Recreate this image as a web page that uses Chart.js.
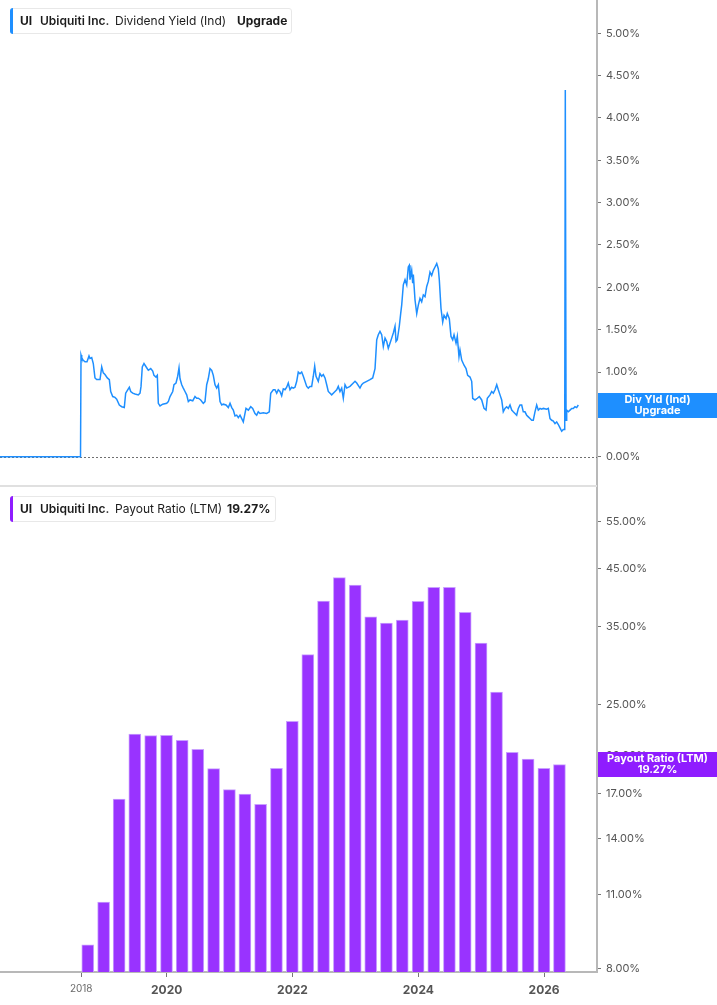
<!DOCTYPE html>
<html>
<head>
<meta charset="utf-8">
<script src="https://cdn.jsdelivr.net/npm/chart.js@4.4.1/dist/chart.umd.min.js"></script>
<style>
  html, body { margin: 0; padding: 0; background: #fff; }
  #wrap { position: relative; width: 717px; height: 1005px; overflow: hidden; font-family: Inter, "Noto Sans", sans-serif; }
  #topBox { position: absolute; left: 0; top: 0; width: 717px; height: 487px; }
  #botBox { position: absolute; left: 0; top: 487px; width: 717px; height: 518px; }
  #divider { position: absolute; left: 0; top: 485px; width: 597px; height: 2px; background: #e0e0e0; }
  .legend { position: absolute; height: 24px; background: #fff; border: 1px solid #e8e8e8; border-radius: 3px; font-size: 12px; color: #1c1c1c; }
  .legend .bar { position: absolute; left: -1px; top: -1px; bottom: -1px; width: 3px; border-radius: 3px 0 0 3px; }
  .legend span { position: absolute; top: 5px; white-space: nowrap; line-height: 14px; }
  .b7 { font-weight: 700; }
  .b6 { font-weight: 600; }
  .b4 { font-weight: 400; }
</style>
</head>
<body>
<div id="wrap">
  <div id="topBox"><canvas id="yieldChart"></canvas></div>
  <div id="botBox"><canvas id="payoutChart"></canvas></div>
  <div id="divider"></div>

  <div class="legend" style="left:10px;top:8px;width:280px;">
    <div class="bar" style="background:#1e8fff"></div>
    <span class="b7" style="left:9px">UI</span>
    <span class="b6" style="left:29px">Ubiquiti Inc.</span>
    <span class="b4" style="left:104px">Dividend Yield (Ind)</span>
    <span class="b7" style="left:226px">Upgrade</span>
  </div>
  <div class="legend" style="left:10px;top:496px;width:264px;">
    <div class="bar" style="background:#8f1cff"></div>
    <span class="b7" style="left:9px">UI</span>
    <span class="b6" style="left:29px">Ubiquiti Inc.</span>
    <span class="b4" style="left:104px">Payout Ratio (LTM)</span>
    <span class="b7" style="left:216px">19.27%</span>
  </div>
</div>
<script>
console.log("Script started");

// ---- data ----
// dividend yield (ind), decimal year -> percent
var yieldYears = [
  2017.350, 2018.630, 2018.638, 2018.649, 2018.670, 2018.701, 2018.733, 2018.765, 2018.781, 2018.808,
  2018.833, 2018.860, 2018.887, 2018.940, 2018.967, 2018.992, 2019.019, 2019.056, 2019.088, 2019.110,
  2019.142, 2019.178, 2019.205, 2019.247, 2019.285, 2019.326, 2019.348, 2019.380, 2019.406, 2019.428,
  2019.460, 2019.496, 2019.549, 2019.576, 2019.592, 2019.612, 2019.639, 2019.682, 2019.708, 2019.746,
  2019.778, 2019.798, 2019.830, 2019.851, 2019.867, 2019.894, 2019.937, 2020.000, 2020.026, 2020.053,
  2020.096, 2020.116, 2020.148, 2020.175, 2020.196, 2020.212, 2020.239, 2020.264, 2020.291, 2020.318,
  2020.344, 2020.371, 2020.414, 2020.450, 2020.477, 2020.503, 2020.541, 2020.582, 2020.609, 2020.636,
  2020.661, 2020.689, 2020.716, 2020.741, 2020.768, 2020.795, 2020.821, 2020.848, 2020.875, 2020.900,
  2020.943, 2020.980, 2021.007, 2021.034, 2021.059, 2021.086, 2021.113, 2021.139, 2021.166, 2021.193,
  2021.218, 2021.234, 2021.261, 2021.298, 2021.336, 2021.367, 2021.404, 2021.431, 2021.456, 2021.483,
  2021.536, 2021.590, 2021.631, 2021.654, 2021.695, 2021.722, 2021.749, 2021.774, 2021.801, 2021.828,
  2021.854, 2021.881, 2021.908, 2021.933, 2021.960, 2021.987, 2022.013, 2022.040, 2022.067, 2022.092,
  2022.119, 2022.146, 2022.172, 2022.226, 2022.251, 2022.278, 2022.305, 2022.331, 2022.353, 2022.374,
  2022.410, 2022.437, 2022.464, 2022.490, 2022.517, 2022.544, 2022.569, 2022.623, 2022.676, 2022.703,
  2022.728, 2022.755, 2022.782, 2022.808, 2022.835, 2022.862, 2022.914, 2022.967, 2022.994, 2023.021,
  2023.073, 2023.100, 2023.126, 2023.180, 2023.232, 2023.275, 2023.312, 2023.339, 2023.364, 2023.391,
  2023.418, 2023.444, 2023.471, 2023.498, 2023.523, 2023.550, 2023.577, 2023.603, 2023.630, 2023.646,
  2023.666, 2023.698, 2023.720, 2023.736, 2023.762, 2023.789, 2023.816, 2023.841, 2023.857, 2023.868,
  2023.895, 2023.911, 2023.921, 2023.948, 2023.975, 2024.000, 2024.027, 2024.054, 2024.080, 2024.107,
  2024.134, 2024.159, 2024.186, 2024.213, 2024.239, 2024.266, 2024.293, 2024.318, 2024.334, 2024.361,
  2024.388, 2024.409, 2024.441, 2024.461, 2024.493, 2024.520, 2024.547, 2024.568, 2024.600, 2024.620,
  2024.647, 2024.663, 2024.690, 2024.727, 2024.759, 2024.785, 2024.822, 2024.849, 2024.865, 2024.902,
  2024.938, 2024.970, 2025.008, 2025.045, 2025.077, 2025.097, 2025.140, 2025.167, 2025.193, 2025.220,
  2025.247, 2025.272, 2025.299, 2025.326, 2025.351, 2025.378, 2025.405, 2025.431, 2025.458, 2025.485,
  2025.510, 2025.537, 2025.564, 2025.590, 2025.617, 2025.644, 2025.669, 2025.696, 2025.723, 2025.749,
  2025.776, 2025.803, 2025.828, 2025.855, 2025.882, 2025.908, 2025.935, 2025.962, 2025.987, 2026.041,
  2026.067, 2026.094, 2026.121, 2026.147, 2026.173, 2026.200, 2026.226, 2026.253, 2026.280, 2026.305,
  2026.328, 2026.337, 2026.349, 2026.359, 2026.385, 2026.412, 2026.439, 2026.464, 2026.491, 2026.518,
  2026.544
];
var yieldPct = [
  0, 0, 1.20, 1.17, 1.14, 1.12, 1.12, 1.19, 1.16, 1.17,
  1.10, 0.93, 0.91, 0.91, 1.06, 0.99, 0.97, 0.93, 0.91, 0.77,
  0.71, 0.70, 0.68, 0.61, 0.59, 0.58, 0.75, 0.79, 0.82, 0.77,
  0.75, 0.74, 0.73, 0.75, 0.83, 1.06, 1.10, 1.05, 1.02, 1.04,
  1.01, 0.96, 0.94, 0.96, 0.63, 0.60, 0.62, 0.63, 0.65, 0.71,
  0.77, 0.85, 0.87, 0.95, 1.05, 0.92, 0.85, 0.81, 0.77, 0.73,
  0.65, 0.67, 0.66, 0.71, 0.69, 0.69, 0.67, 0.63, 0.65, 0.85,
  0.92, 1.04, 1.02, 0.96, 0.85, 0.81, 0.85, 0.65, 0.61, 0.62,
  0.61, 0.58, 0.63, 0.58, 0.55, 0.48, 0.49, 0.46, 0.49, 0.45,
  0.41, 0.47, 0.57, 0.55, 0.59, 0.57, 0.51, 0.49, 0.53, 0.51,
  0.52, 0.51, 0.53, 0.75, 0.79, 0.79, 0.75, 0.79, 0.77, 0.72,
  0.80, 0.79, 0.82, 0.87, 0.79, 0.82, 0.81, 0.82, 0.89, 1.00,
  0.98, 1.00, 0.95, 0.83, 0.81, 0.83, 0.83, 0.95, 1.07, 0.95,
  0.89, 0.98, 0.95, 0.97, 0.93, 0.85, 0.77, 0.73, 0.77, 0.79,
  0.83, 0.77, 0.81, 0.69, 0.85, 0.81, 0.83, 0.87, 0.89, 0.87,
  0.81, 0.85, 0.87, 0.89, 0.91, 0.93, 1.04, 1.38, 1.44, 1.48,
  1.44, 1.30, 1.40, 1.36, 1.28, 1.34, 1.40, 1.46, 1.54, 1.36,
  1.38, 1.54, 1.69, 1.79, 2.03, 2.09, 2.03, 2.24, 2.26, 2.09,
  2.20, 2.05, 2.15, 1.85, 1.69, 1.79, 1.87, 1.83, 1.91, 1.89,
  2.01, 2.07, 2.18, 2.14, 2.20, 2.24, 2.28, 2.22, 2.09, 1.75,
  1.59, 1.67, 1.63, 1.69, 1.63, 1.42, 1.38, 1.44, 1.34, 1.42,
  1.18, 1.26, 1.14, 1.08, 1.04, 0.96, 0.94, 0.89, 0.69, 0.67,
  0.69, 0.71, 0.67, 0.57, 0.55, 0.69, 0.73, 0.77, 0.75, 0.79,
  0.85, 0.79, 0.73, 0.67, 0.53, 0.57, 0.59, 0.57, 0.61, 0.55,
  0.53, 0.51, 0.49, 0.57, 0.61, 0.61, 0.53, 0.53, 0.49, 0.47,
  0.45, 0.43, 0.43, 0.53, 0.61, 0.55, 0.57, 0.56, 0.57, 0.56,
  0.57, 0.45, 0.43, 0.42, 0.39, 0.41, 0.38, 0.34, 0.30, 0.32,
  0.32, 4.33, 0.43, 0.55, 0.53, 0.55, 0.57, 0.57, 0.59, 0.58,
  0.61
];

// payout ratio (LTM), quarterly
var payoutQuarters = [
  '2018-09-30', '2018-12-31', '2019-03-31', '2019-06-30', '2019-09-30', '2019-12-31',
  '2020-03-31', '2020-06-30', '2020-09-30', '2020-12-31', '2021-03-31', '2021-06-30',
  '2021-09-30', '2021-12-31', '2022-03-31', '2022-06-30', '2022-09-30', '2022-12-31',
  '2023-03-31', '2023-06-30', '2023-09-30', '2023-12-31', '2024-03-31', '2024-06-30',
  '2024-09-30', '2024-12-31', '2025-03-31', '2025-06-30', '2025-09-30', '2025-12-31',
  '2026-03-31'
];
var payoutPct = [
  8.85, 10.65, 16.61, 22.00, 21.84, 21.87,
  21.41, 20.59, 18.94, 17.30, 16.98, 16.24,
  18.97, 23.24, 30.98, 39.06, 43.20, 41.85,
  36.50, 35.52, 35.98, 39.00, 41.43, 41.43,
  37.20, 32.58, 26.37, 20.32, 19.75, 18.97,
  19.27
];

// axes
var yieldTicks = [0, 0.5, 1, 1.5, 2, 2.5, 3, 3.5, 4, 4.5, 5];
var payoutTicks = [8, 11, 14, 17, 20, 25, 35, 45, 55];
var xTickValues = [2018.641, 2020, 2022, 2024, 2026];
var xTickLabels = ['2018', '2020', '2022', '2024', '2026'];
var xMin = 2017.35, xMax = 2026.841;

var yieldColor = '#1e8fff';
var payoutColor = '#9933ff';
var payoutBadge = '#8f1cff';

function decYear(s) {
    var d = new Date(s + 'T00:00:00Z');
    var y = d.getUTCFullYear();
    var a = Date.UTC(y, 0, 1), b = Date.UTC(y + 1, 0, 1);
    return y + (d.getTime() - a) / (b - a);
}

// chart.js reserves room for half a tick label at the axis ends; we don't want that
function noScalePadding(s) {
    s.paddingTop = 0;
    s.paddingBottom = 0;
    s.paddingLeft = 0;
    s.paddingRight = 0;
}

Chart.defaults.font.family = 'Inter, "Noto Sans", sans-serif';
Chart.defaults.animation = false;

// dotted zero line in the yield chart
var zeroLine = {
    id: 'zeroLine',
    beforeDatasetsDraw: function(chart) {
        var y = chart.scales.y.getPixelForValue(0);
        var ctx = chart.ctx;
        ctx.save();
        ctx.setLineDash([2, 2]);
        ctx.strokeStyle = '#6f6f6f';
        ctx.lineWidth = 1;
        ctx.beginPath();
        ctx.moveTo(chart.chartArea.left, Math.round(y) + 0.5);
        ctx.lineTo(chart.chartArea.right, Math.round(y) + 0.5);
        ctx.stroke();
        ctx.restore();
    }
};

// value badge on the right axis, at the last value
var lastBadge = {
    id: 'lastBadge',
    afterDraw: function(chart, args, opts) {
        var ds = chart.data.datasets[0].data;
        var v = ds[ds.length - 1].y;
        var yc = chart.scales.y.getPixelForValue(v);
        var ctx = chart.ctx;
        var x0 = chart.chartArea.right + 1, x1 = chart.width;
        ctx.save();
        ctx.fillStyle = opts.color;
        ctx.fillRect(x0, Math.round(yc - 12.5), x1 - x0, 25);
        ctx.fillStyle = '#fff';
        ctx.font = 'bold 11px Inter, "Noto Sans", sans-serif';
        ctx.textAlign = 'center';
        ctx.textBaseline = 'middle';
        ctx.fillText(opts.line1, (x0 + x1) / 2, yc - 5.5);
        ctx.fillText(opts.line2, (x0 + x1) / 2, yc + 5.5);
        ctx.restore();
    }
};

var rightAxis = {
    position: 'right',
    border: { display: true, color: '#b8b8b8', width: 2 },
    grid: { display: true, drawOnChartArea: false, drawTicks: true, tickLength: 4, tickColor: '#777', tickWidth: 1 },
    ticks: {
        color: '#555',
        font: { size: 11 },
        padding: 5,
        autoSkip: false,
        callback: function(v) { return v.toFixed(2) + '%'; }
    },
    afterFit: function(s) { s.width = 120; noScalePadding(s); }
};

var yieldChart = new Chart(document.getElementById('yieldChart'), {
    type: 'line',
    data: {
        datasets: [{
            data: yieldYears.map(function(x, i) { return { x: x, y: yieldPct[i] }; }),
            borderColor: yieldColor,
            borderWidth: 1.5,
            pointRadius: 0,
            tension: 0,
            fill: false
        }]
    },
    options: {
        responsive: true,
        maintainAspectRatio: false,
        layout: { padding: 0, autoPadding: false },
        plugins: {
            legend: { display: false },
            tooltip: { enabled: false },
            lastBadge: { color: yieldColor, line1: 'Div Yld (Ind)', line2: 'Upgrade' }
        },
        scales: {
            x: { type: 'linear', min: xMin, max: xMax, display: false },
            y: Object.assign({}, rightAxis, {
                min: -0.358, max: 5.393,
                afterBuildTicks: function(s) { s.ticks = yieldTicks.map(function(v) { return { value: v }; }); }
            })
        }
    },
    plugins: [zeroLine, lastBadge]
});

var payoutChart = new Chart(document.getElementById('payoutChart'), {
    type: 'bar',
    data: {
        datasets: [{
            data: payoutQuarters.map(function(q, i) { return { x: decYear(q), y: payoutPct[i] }; }),
            backgroundColor: payoutColor,
            borderColor: '#c9a0ff',
            borderWidth: { top: 1, left: 1, right: 1, bottom: 0 },
            barThickness: 12
        }]
    },
    options: {
        responsive: true,
        maintainAspectRatio: false,
        layout: { padding: 0, autoPadding: false },
        plugins: {
            legend: { display: false },
            tooltip: { enabled: false },
            lastBadge: { color: payoutBadge, line1: 'Payout Ratio (LTM)', line2: '19.27%' }
        },
        scales: {
            x: {
                type: 'linear', min: xMin, max: xMax,
                offset: false,
                border: { display: true, color: '#b8b8b8', width: 2 },
                grid: { display: true, offset: false, drawOnChartArea: false, drawTicks: true, tickLength: 5, tickColor: '#777' },
                afterBuildTicks: function(s) { s.ticks = xTickValues.map(function(v) { return { value: v }; }); },
                afterFit: function(s) { s.height = 33; noScalePadding(s); },
                ticks: {
                    autoSkip: false,
                    maxRotation: 0,
                    padding: 6,
                    color: function(ctx) { return ctx.index === 0 ? '#6a6a6a' : '#555'; },
                    font: function(ctx) {
                        return ctx.index === 0 ? { size: 10, weight: 'normal' } : { size: 12, weight: 'bold' };
                    },
                    callback: function(v, i) { return xTickLabels[i]; }
                }
            },
            y: Object.assign({}, rightAxis, {
                type: 'logarithmic',
                min: 7.873, max: 63.9,
                afterBuildTicks: function(s) { s.ticks = payoutTicks.map(function(v) { return { value: v }; }); }
            })
        }
    },
    plugins: [lastBadge]
});

console.log("Script completed");
</script>
</body>
</html>
